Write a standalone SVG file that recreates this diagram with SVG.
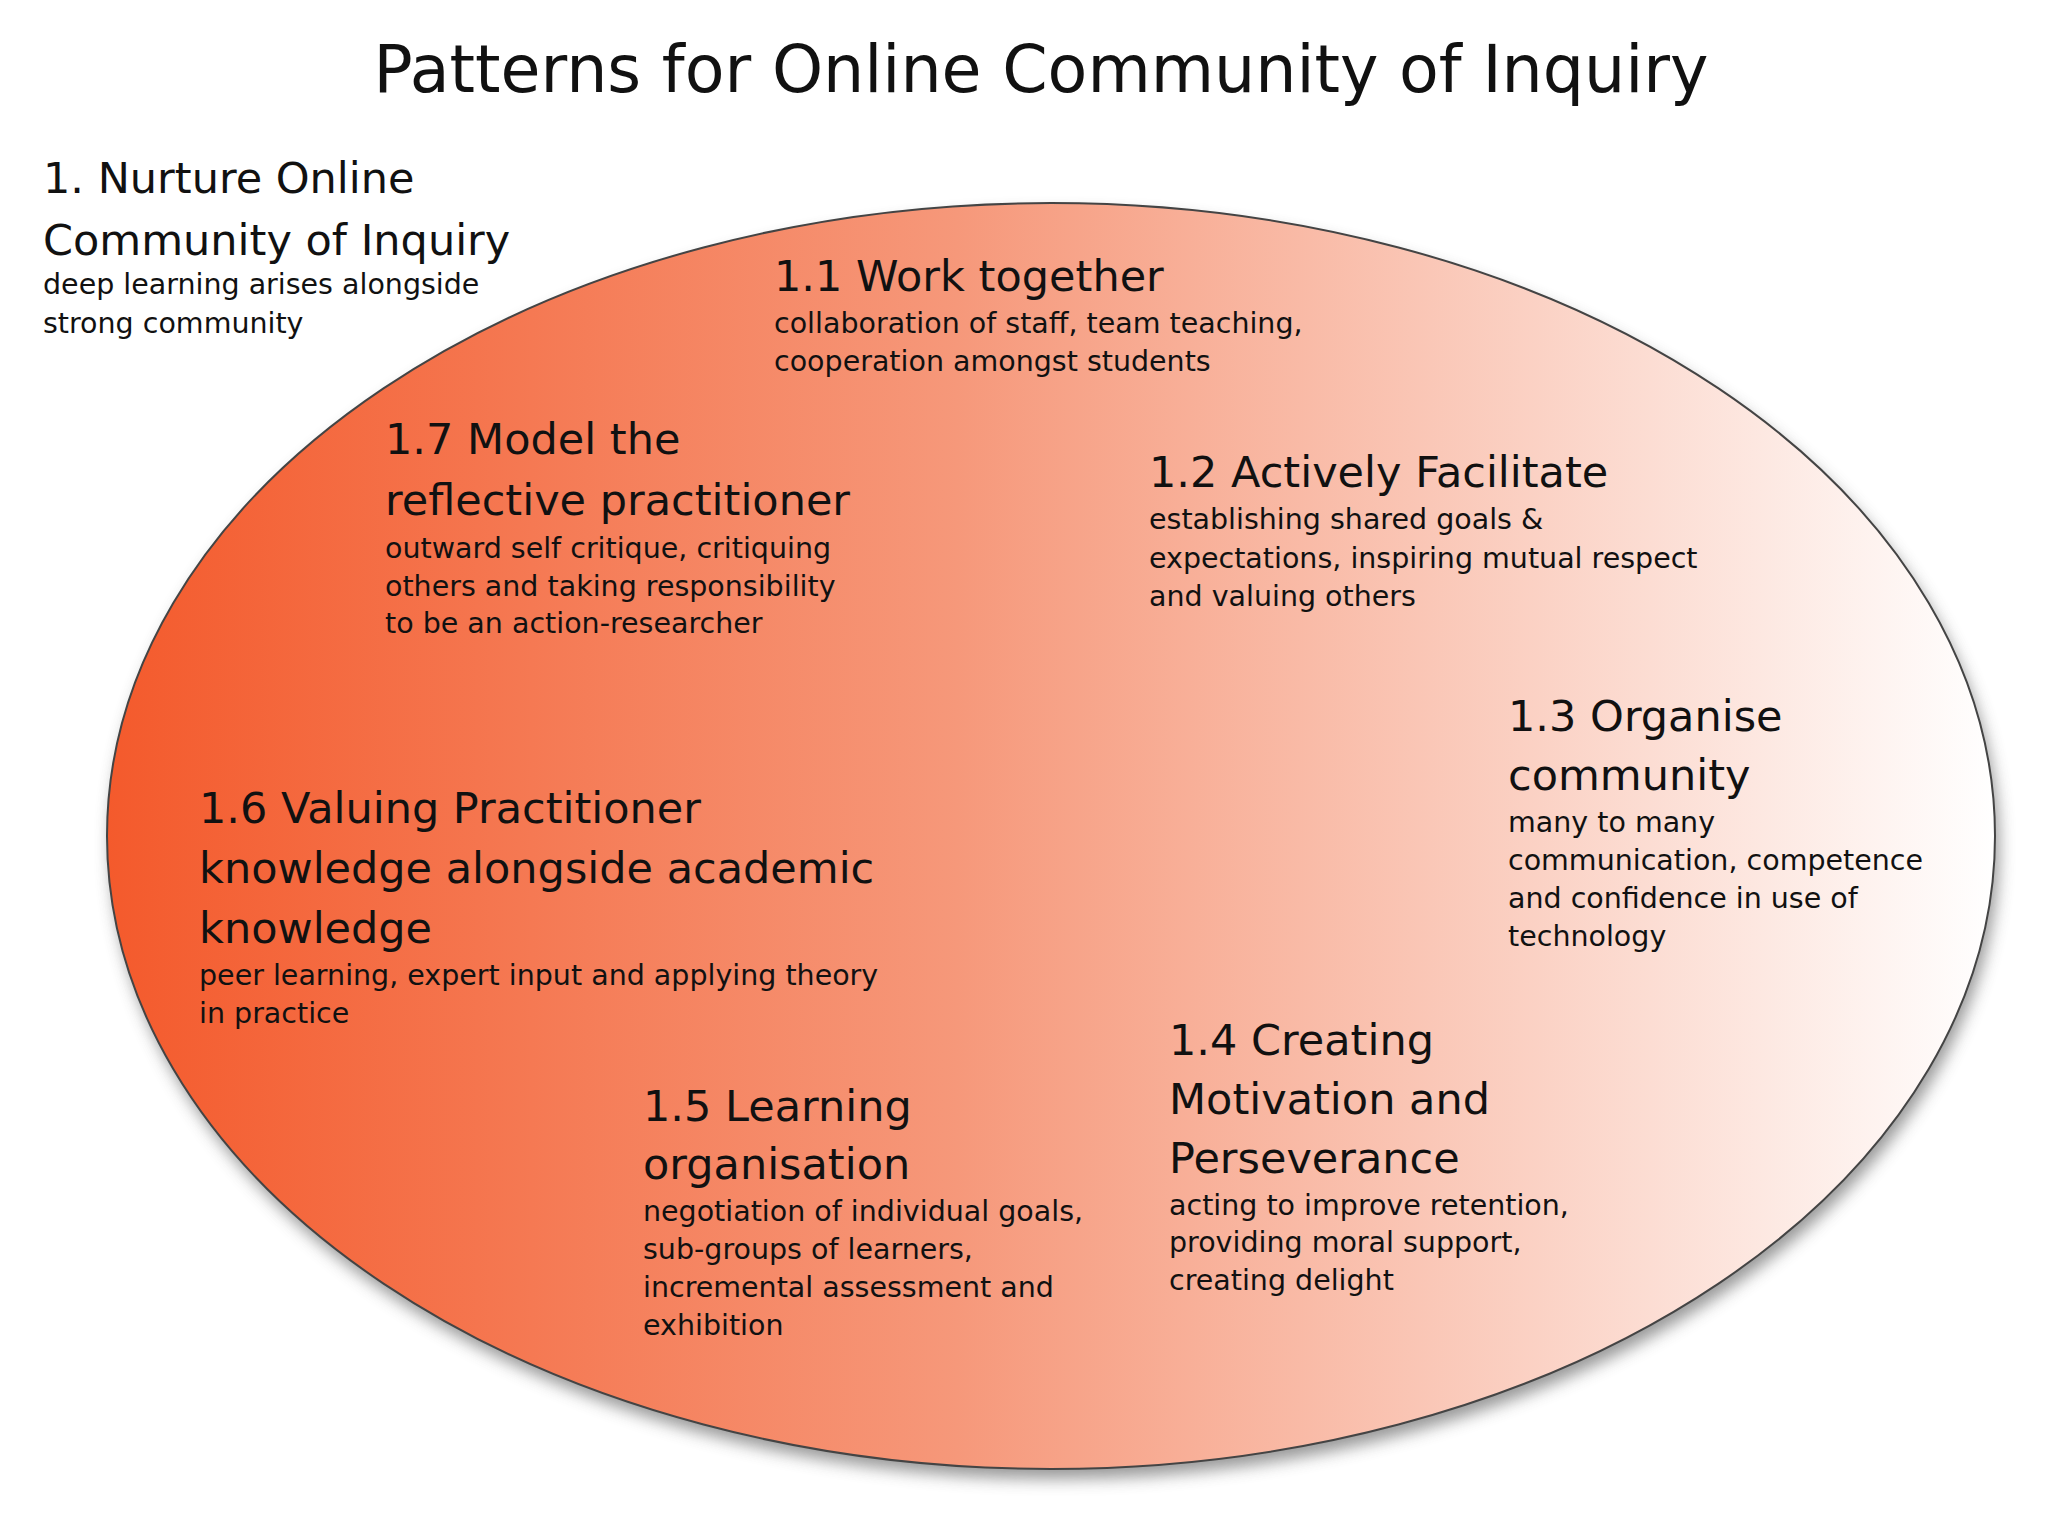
<svg xmlns="http://www.w3.org/2000/svg" width="2048" height="1536" viewBox="0 0 2048 1536">
<defs>
<linearGradient id="g" x1="0" y1="0" x2="1" y2="0">
<stop offset="0" stop-color="#f45a2c"/>
<stop offset="0.45" stop-color="#f6987a"/>
<stop offset="1" stop-color="#ffffff"/>
</linearGradient>
<filter id="sh" x="-10%" y="-10%" width="120%" height="120%"><feGaussianBlur stdDeviation="8"/></filter>
<style>
.h{font-family:"DejaVu Sans",sans-serif;font-size:43px;fill:#111}
.s{font-family:"DejaVu Sans",sans-serif;font-size:28.5px;fill:#111}
.t{font-family:"DejaVu Sans",sans-serif;font-size:65px;fill:#111}
</style>
</defs>
<rect width="2048" height="1536" fill="#fff"/>
<text class="t" x="1041" y="92" text-anchor="middle">Patterns for Online Community of Inquiry</text>
<ellipse cx="1055" cy="846" rx="944" ry="633" fill="#555" opacity="0.6" filter="url(#sh)"/>
<ellipse id="ellipse" cx="1051" cy="836" rx="944" ry="633" fill="url(#g)" stroke="#444" stroke-width="2"/>
<g id="n1"><text class="h" x="43" y="193">1. Nurture Online</text><text class="h" x="43" y="255">Community of Inquiry</text><text class="s" x="43" y="294">deep learning arises alongside</text><text class="s" x="43" y="333">strong community</text></g>
<g id="n11"><text class="h" x="774" y="291">1.1 Work together</text><text class="s" x="774" y="333">collaboration of staff, team teaching,</text><text class="s" x="774" y="371">cooperation amongst students</text></g>
<g id="n17"><text class="h" x="385" y="454">1.7 Model the</text><text class="h" x="385" y="515">reflective practitioner</text><text class="s" x="385" y="558">outward self critique, critiquing</text><text class="s" x="385" y="596">others and taking responsibility</text><text class="s" x="385" y="633">to be an action-researcher</text></g>
<g id="n12"><text class="h" x="1149" y="487">1.2 Actively Facilitate</text><text class="s" x="1149" y="529">establishing shared goals &amp;</text><text class="s" x="1149" y="568">expectations, inspiring mutual respect</text><text class="s" x="1149" y="606">and valuing others</text></g>
<g id="n13"><text class="h" x="1508" y="731">1.3 Organise</text><text class="h" x="1508" y="790">community</text><text class="s" x="1508" y="832">many to many</text><text class="s" x="1508" y="870">communication, competence</text><text class="s" x="1508" y="908">and confidence in use of</text><text class="s" x="1508" y="946">technology</text></g>
<g id="n16"><text class="h" x="199" y="823">1.6 Valuing Practitioner</text><text class="h" x="199" y="883">knowledge alongside academic</text><text class="h" x="199" y="943">knowledge</text><text class="s" x="199" y="985">peer learning, expert input and applying theory</text><text class="s" x="199" y="1023">in practice</text></g>
<g id="n15"><text class="h" x="643" y="1121">1.5 Learning</text><text class="h" x="643" y="1179">organisation</text><text class="s" x="643" y="1221">negotiation of individual goals,</text><text class="s" x="643" y="1259">sub-groups of learners,</text><text class="s" x="643" y="1297">incremental assessment and</text><text class="s" x="643" y="1335">exhibition</text></g>
<g id="n14"><text class="h" x="1169" y="1055">1.4 Creating</text><text class="h" x="1169" y="1114">Motivation and</text><text class="h" x="1169" y="1173">Perseverance</text><text class="s" x="1169" y="1215">acting to improve retention,</text><text class="s" x="1169" y="1252">providing moral support,</text><text class="s" x="1169" y="1290">creating delight</text></g>
<g id="connectors"/>
</svg>
